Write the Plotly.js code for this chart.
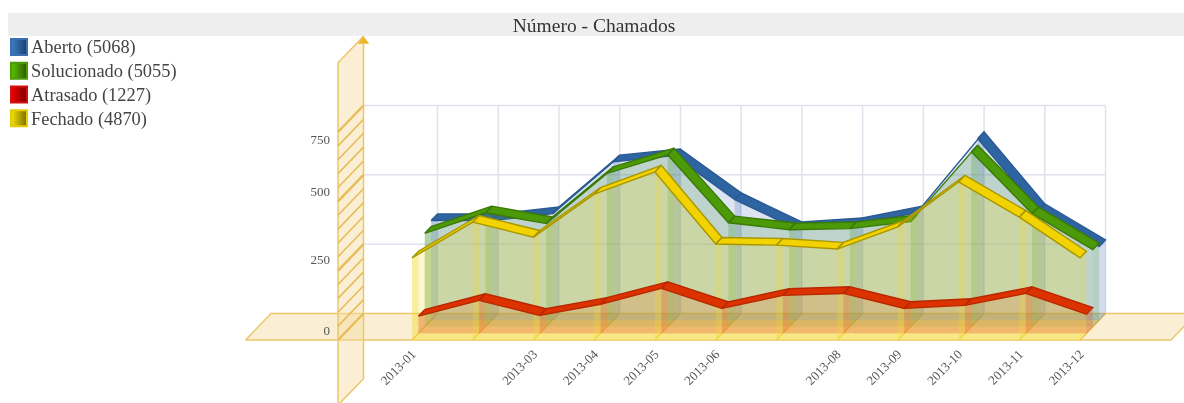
<!DOCTYPE html>
<html><head><meta charset="utf-8">
<script src="https://cdn.plot.ly/plotly-3.0.1.min.js"></script>
<style>html,body{margin:0;padding:0;background:#fff}#c{width:1184px;height:403px;filter:blur(0.4px)}</style>
</head><body><div id="c"></div><script>
const categories=['2013-01','2013-02','2013-03','2013-04','2013-05','2013-06','2013-07','2013-08','2013-09','2013-10','2013-11','2013-12'];
const aberto=[359,359,384,571,593,435,330,345,388,655,395,265];
const solucionado=[337,411,372,553,620,375,350,354,379,631,408,278];
const atrasado=[62,119,65,105,162,90,137,144,90,101,144,69];
const fechado=[296,425,371,526,606,346,342,328,408,570,443,296];
const xTickIdx=[0,2,3,4,5,7,8,9,10,11];
const yTickLabels=['0','250','500','750'];
const yTickPos=[36,289,536,725];
const legendNames=['Aberto (5068)','Solucionado (5055)','Atrasado (1227)','Fechado (4870)'];

const W=1184,H=403,pxX=60.73,pxV=0.2773,x0=412,y0=340;
const DX=25.5/pxX,DY=26.5/pxV;
const P=(i,v,d)=>[i+d*DX,v+d*DY];
function polyTrace(polys,fill,line,lw){
  const x=[],y=[];
  polys.forEach(p=>{p.forEach(q=>{x.push(q[0]);y.push(q[1]);});x.push(p[0][0]);y.push(p[0][1]);x.push(null);y.push(null);});
  return {x,y,mode:'lines',fill:'toself',fillcolor:fill,line:{color:line||'rgba(0,0,0,0)',width:lw===undefined?1:lw},hoverinfo:'skip',showlegend:false};
}
function lineTrace(segs,color,w){
  const x=[],y=[];
  segs.forEach(s=>{s.forEach(q=>{x.push(q[0]);y.push(q[1]);});x.push(null);y.push(null);});
  return {x,y,mode:'lines',line:{color,width:w},hoverinfo:'skip',showlegend:false};
}
const idx=categories.map((_,i)=>i);
const traces=[];
const wallI=(338-x0)/pxX, floorL=(245.5-x0)/pxX, floorR=(1171-x0)/pxX;
const gridV=[250,500,750];
traces.push(lineTrace(gridV.map(v=>[P(wallI,v,1),P(11,v,1)]),'#e0e2ec',1.5));
traces.push(lineTrace(idx.map(i=>[P(i,0,1),P(i,750,1)]),'#e0e2ec',1.5));
traces.push(polyTrace([[P(floorL,0,0),P(floorR,0,0),P(floorR,0,1),P(floorL,0,1)]],'rgba(245,220,160,0.45)','#edc66a',1.5));
traces.push(polyTrace([[P(wallI,-235,0),P(wallI,-235,1),P(wallI,1000,1),P(wallI,1000,0)]],'rgba(245,220,160,0.45)','#edc66a',1.5));
const minor=[];for(const v of [50,100,150,200,300,350,400,450,550,600,650,700])minor.push([P(wallI,v,0),P(wallI,v,1)]);
traces.push(lineTrace(minor,'#e8bc58',1.6));
traces.push(lineTrace([0,250,500,750].map(v=>[P(wallI,v,0),P(wallI,v,1)]),'#e8bc58',2.4));
{const a=P(wallI,982,1);traces.push({x:[a[0]],y:[a[1]],mode:'markers',marker:{symbol:'triangle-up',size:10,color:'#edb52e'},hoverinfo:'skip',showlegend:false});}
traces.push(lineTrace(idx.map(i=>[P(i,0,0),P(i,0,1)]),'#e8b840',1.3));

function ribbon(vals,d0,d1,top,edge){
  const r=[];for(let i=0;i<11;i++)r.push([P(i,vals[i],d0),P(i+1,vals[i+1],d0),P(i+1,vals[i+1],d1),P(i,vals[i],d1)]);
  return polyTrace(r,top,edge,1.4);
}
function body(vals,d0,d1,face,strip,floor){
  traces.push(polyTrace([[P(0,0,d0),P(11,0,d0),P(11,0,d1),P(0,0,d1)]],floor));
  const facePoly=[P(0,0,d0)];idx.forEach(i=>facePoly.push(P(i,vals[i],d0)));facePoly.push(P(11,0,d0));
  traces.push(polyTrace([facePoly],face));
  traces.push(polyTrace(idx.map(i=>[P(i,0,d0),P(i,0,d1),P(i,vals[i],d1),P(i,vals[i],d0)]),strip));
}
body(aberto,0.75,1,'rgba(110,140,200,0.23)','rgba(110,140,200,0.3)','rgba(110,140,200,0.2)');
traces.push(ribbon(aberto,0.75,1,'#2f64a2','#2a5a92'));
body(solucionado,0.5,0.75,'rgba(70,150,60,0.21)','rgba(70,150,60,0.26)','rgba(240,170,90,0.42)');
traces.push(ribbon(solucionado,0.5,0.75,'#4c9a08','#3a7a06'));
body(atrasado,0.25,0.5,'rgba(225,60,20,0.2)','rgba(225,60,20,0.26)','rgba(240,150,90,0.45)');
body(fechado,0,0.25,'rgba(245,225,50,0.25)','rgba(245,215,50,0.28)','rgba(250,230,110,0.5)');
traces.push(ribbon(atrasado,0.25,0.5,'#dc3200','#b82800'));
traces.push(ribbon(fechado,0,0.25,'#f2d200','#a89600'));

const legendColors=[['#3f7fc8','#1c3f6e','#3a70b0'],['#5cc400','#2c5a00','#4c9a08'],['#f00000','#7a0000','#d01010'],['#f4e400','#7a6c00','#e6cc00']];
legendNames.forEach((n,k)=>traces.push({x:[null],y:[null],mode:'markers',name:n,showlegend:true,hoverinfo:'skip',
  marker:{symbol:'square',size:16,color:legendColors[k][0],gradient:{type:'horizontal',color:legendColors[k][1]},line:{color:legendColors[k][2],width:2}}}));

const serif='"Liberation Serif","Times New Roman",serif';
const layout={
  width:W,height:H,margin:{l:0,r:0,t:0,b:0,autoexpand:false},paper_bgcolor:'#fff',plot_bgcolor:'rgba(0,0,0,0)',
  title:{text:'Número - Chamados',font:{family:serif,size:19.5,color:'#333'},x:594/W,xanchor:'center',y:1-25/H,yanchor:'middle'},
  shapes:[{type:'rect',xref:'paper',yref:'paper',x0:8/W,x1:1,y0:1-13/H,y1:1-36/H,fillcolor:'#eeeeee',line:{width:0},layer:'below'}],
  xaxis:{range:[-x0/pxX,(W-x0)/pxX],showgrid:false,zeroline:false,showline:false,ticks:'',tickmode:'array',
    tickvals:xTickIdx,ticktext:xTickIdx.map(i=>categories[i]),tickangle:-45,tickfont:{family:serif,size:13,color:'#555'},
    anchor:'free',position:(H-343)/H,fixedrange:true},
  yaxis:{range:[(y0-H)/pxV,y0/pxV],showgrid:false,zeroline:false,showline:false,ticks:'',tickmode:'array',
    tickvals:yTickPos,ticktext:yTickLabels,tickfont:{family:serif,size:13,color:'#555'},
    anchor:'free',position:330/W,fixedrange:true},
  legend:{x:-9/W,y:1-30/H,xanchor:'left',yanchor:'top',bgcolor:'rgba(0,0,0,0)',borderwidth:0,font:{family:serif,size:16,color:'#444'},itemclick:false,itemdoubleclick:false},
  showlegend:true
};
Plotly.newPlot('c',traces,layout,{displayModeBar:false,staticPlot:true}).then(gd=>{
  gd.querySelectorAll('.legendsymbols').forEach(e=>e.setAttribute('transform','translate(8,0)'));
  gd.querySelectorAll('.legendtext').forEach(e=>{e.style.fontSize='18.4px';});
  gd.querySelectorAll('.legend, .legend *').forEach(e=>{e.removeAttribute('clip-path');e.style.clipPath='none';});
});
</script></body></html>
